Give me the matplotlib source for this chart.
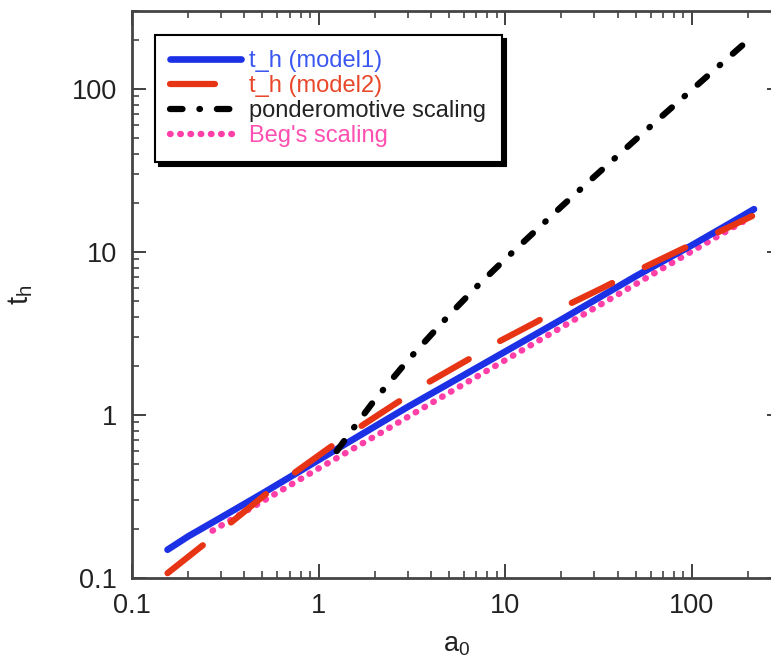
import numpy as np
import matplotlib.pyplot as plt
from matplotlib.ticker import FixedLocator, FixedFormatter, LogLocator, NullFormatter

plt.rcParams['font.family'] = ['Liberation Sans', 'DejaVu Sans']
plt.rcParams['mathtext.default'] = 'regular'

# t_h (model1)
model1_a = [0.155, 0.2, 0.3, 0.5, 1, 2, 3, 5, 10, 20, 50, 100, 160, 215]
model1_t = [0.149, 0.18, 0.235, 0.33, 0.53, 0.85, 1.12, 1.56, 2.45, 3.85, 7.1, 11.0, 15.0, 18.3]

# t_h (model2)
model2_a = [0.155, 0.26, 0.57, 0.8, 1.3, 1.73, 2.9, 3.85, 6.6, 8.6, 14.4, 19.3, 33, 43, 72, 96, 160, 210]
model2_t = [0.107, 0.171, 0.355, 0.47, 0.70, 0.87, 1.28, 1.58, 2.25, 2.70, 3.68, 4.45, 6.0, 7.0, 9.3, 10.9, 14.3, 16.6]

# ponderomotive scaling
pond_a = [1.25, 1.5, 2, 3, 5, 7, 10, 20, 30, 50, 70, 100, 150, 200]
pond_t = [0.60, 0.80, 1.24, 2.16, 4.1, 6.1, 9.05, 19.0, 29.0, 49.0, 69.0, 99.0, 149.0, 199.0]

# Beg's scaling
beg_a = [0.27, 0.5, 1, 2, 5, 10, 20, 50, 100, 200]
beg_t = [0.195, 0.295, 0.47, 0.74, 1.37, 2.17, 3.45, 6.35, 10.1, 16.0]

labels = ['t_h (model1)', 't_h (model2)', 'ponderomotive scaling', "Beg's scaling"]
ticks = [0.1, 1, 10, 100]
tick_labels = ['0.1', '1', '10', '100']

blue = '#1c30e6'
red = '#e63414'
pink = '#ff3fa8'

fig = plt.figure(figsize=(7.71, 6.61), dpi=100)
ax = fig.add_axes([0.1712, 0.1256, 0.8418, 0.8575])

l4, = ax.plot(beg_a, beg_t, color=pink, lw=4.6, dashes=(0.1, 1.5),
              dash_capstyle='round', zorder=2)
l1, = ax.plot(model1_a, model1_t, color=blue, lw=4.8, solid_capstyle='round', zorder=3)
l2, = ax.plot(model2_a, model2_t, color=red, lw=4.5, dashes=(7.2, 5.8),
              dash_capstyle='round', zorder=4)
l3, = ax.plot(pond_a, pond_t, color='k', lw=4.5, dashes=(2.0, 2.7, 0.1, 2.7),
              dash_capstyle='round', zorder=5)

ax.set_xscale('log')
ax.set_yscale('log')
ax.set_xlim(0.1, 300)
ax.set_ylim(0.1, 300)

for axis in (ax.xaxis, ax.yaxis):
    axis.set_major_locator(FixedLocator(ticks))
    axis.set_major_formatter(FixedFormatter(tick_labels))
    axis.set_minor_locator(LogLocator(base=10, subs=np.arange(2, 10)))
    axis.set_minor_formatter(NullFormatter())

ax.tick_params(which='both', direction='in', top=True, right=True, colors='#333333')
ax.tick_params(which='major', length=10, width=1.3, labelsize=19.5, pad=11, labelcolor='#222222')
ax.tick_params(which='minor', length=5, width=1.1)
for sp in ax.spines.values():
    sp.set_linewidth(2)
    sp.set_color('#444444')

ax.set_xlabel('$a_0$', fontsize=19.5, labelpad=9, color='#222222')
ax.set_ylabel('$t_h$', fontsize=21, labelpad=26, color='#222222')

leg = ax.legend([l1, l2, l3, l4], labels, loc='upper left',
                bbox_to_anchor=(0.0354, 0.958), borderaxespad=0, fontsize=17,
                handlelength=3.0, handletextpad=0.34, labelspacing=0.12,
                borderpad=0.65, fancybox=False, framealpha=1, edgecolor='k',
                shadow={'color': 'k', 'alpha': 1, 'ox': 3, 'oy': -3})
leg.get_frame().set_linewidth(1.5)
for txt, c in zip(leg.get_texts(), ['#3a58f0', '#e8472a', '#222222', '#ff4fb0']):
    txt.set_color(c)

fig.savefig('out.png', dpi=100)
